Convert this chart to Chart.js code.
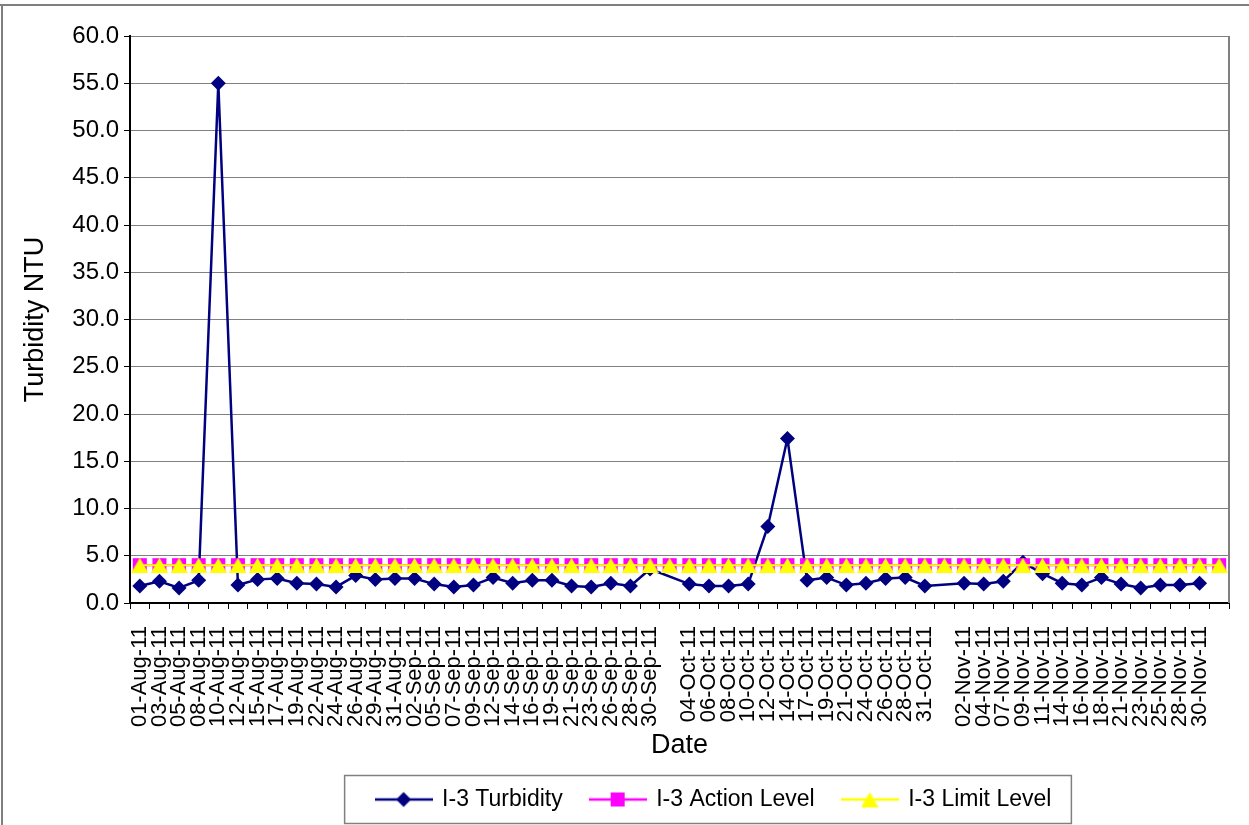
<!DOCTYPE html>
<html>
<head>
<meta charset="utf-8">
<script src="https://cdn.jsdelivr.net/npm/chart.js@4"></script>
<style>
    html, body { margin: 0; padding: 0; background: #fff; }
</style>
</head>
<body>
<canvas id="turbidityChart" width="1249" height="825"></canvas>
<script>
// category labels ('' = empty slot in the sheet)
const dates = [
    '01-Aug-11', '03-Aug-11', '05-Aug-11', '08-Aug-11', '10-Aug-11', '12-Aug-11', '15-Aug-11',
    '17-Aug-11', '19-Aug-11', '22-Aug-11', '24-Aug-11', '26-Aug-11', '29-Aug-11', '31-Aug-11',
    '02-Sep-11', '05-Sep-11', '07-Sep-11', '09-Sep-11', '12-Sep-11', '14-Sep-11', '16-Sep-11',
    '19-Sep-11', '21-Sep-11', '23-Sep-11', '26-Sep-11', '28-Sep-11', '30-Sep-11', '',
    '04-Oct-11', '06-Oct-11', '08-Oct-11', '10-Oct-11', '12-Oct-11', '14-Oct-11', '17-Oct-11',
    '19-Oct-11', '21-Oct-11', '24-Oct-11', '26-Oct-11', '28-Oct-11', '31-Oct-11', '',
    '02-Nov-11', '04-Nov-11', '07-Nov-11', '09-Nov-11', '11-Nov-11', '14-Nov-11', '16-Nov-11',
    '18-Nov-11', '21-Nov-11', '23-Nov-11', '25-Nov-11', '28-Nov-11', '30-Nov-11', ''
];

const turbidity = [
    1.8, 2.3, 1.6, 2.4, 55.0, 1.9, 2.5,
    2.6, 2.1, 2.0, 1.7, 2.9, 2.5, 2.6,
    2.6, 2.0, 1.7, 1.9, 2.7, 2.1, 2.4,
    2.4, 1.8, 1.7, 2.1, 1.8, 3.6, null,
    2.0, 1.8, 1.8, 2.0, 8.1, 17.4, 2.4,
    2.7, 1.9, 2.1, 2.6, 2.7, 1.8, null,
    2.1, 2.0, 2.3, 4.3, 3.1, 2.1, 1.9,
    2.7, 2.0, 1.6, 1.9, 1.9, 2.1, null
];

const actionLevel = [
    4.0, 4.0, 4.0, 4.0, 4.0, 4.0, 4.0, 4.0, 4.0, 4.0, 4.0, 4.0, 4.0, 4.0,
    4.0, 4.0, 4.0, 4.0, 4.0, 4.0, 4.0, 4.0, 4.0, 4.0, 4.0, 4.0, 4.0, 4.0,
    4.0, 4.0, 4.0, 4.0, 4.0, 4.0, 4.0, 4.0, 4.0, 4.0, 4.0, 4.0, 4.0, 4.0,
    4.0, 4.0, 4.0, 4.0, 4.0, 4.0, 4.0, 4.0, 4.0, 4.0, 4.0, 4.0, 4.0, 4.0
];

const limitLevel = [
    4.0, 4.0, 4.0, 4.0, 4.0, 4.0, 4.0, 4.0, 4.0, 4.0, 4.0, 4.0, 4.0, 4.0,
    4.0, 4.0, 4.0, 4.0, 4.0, 4.0, 4.0, 4.0, 4.0, 4.0, 4.0, 4.0, 4.0, 4.0,
    4.0, 4.0, 4.0, 4.0, 4.0, 4.0, 4.0, 4.0, 4.0, 4.0, 4.0, 4.0, 4.0, 4.0,
    4.0, 4.0, 4.0, 4.0, 4.0, 4.0, 4.0, 4.0, 4.0, 4.0, 4.0, 4.0, 4.0, 4.0
];

const seriesNames = ['I-3 Turbidity', 'I-3 Action Level', 'I-3 Limit Level'];
const seriesColors = ['#000080', '#FF00FF', '#FFFF00'];

const FONT = "'Liberation Sans', Arial, sans-serif";

// yellow triangle marker, centred on its bounding box like Excel does
function triangleMarker() {
    const c = document.createElement('canvas');
    c.width = 17; c.height = 15;
    const g = c.getContext('2d');
    g.fillStyle = '#FFFF00';
    g.beginPath();
    g.moveTo(8.5, 0);
    g.lineTo(17, 15);
    g.lineTo(0, 15);
    g.closePath();
    g.fill();
    return c;
}
const triImg = triangleMarker();

// legend sample: line with the marker in the middle
function legendIcon(color, shape) {
    const c = document.createElement('canvas');
    c.width = 58; c.height = 18;
    const g = c.getContext('2d');
    g.strokeStyle = color;
    g.lineWidth = 2.5;
    g.beginPath(); g.moveTo(0, 9); g.lineTo(58, 9); g.stroke();
    g.fillStyle = color;
    g.beginPath();
    if (shape === 'diamond') {
        g.moveTo(29, 1.5); g.lineTo(36.5, 9); g.lineTo(29, 16.5); g.lineTo(21.5, 9);
        g.closePath(); g.fill();
    } else if (shape === 'square') {
        g.fillRect(22, 2, 14, 14);
    } else {
        g.drawImage(triImg, 20.5, 1.5);
    }
    return c;
}
const legendIcons = [
    legendIcon(seriesColors[0], 'diamond'),
    legendIcon(seriesColors[1], 'square'),
    legendIcon(seriesColors[2], 'triangle')
];

const LEGEND_CENTER = 714;

const framePlugin = {
    id: 'frame',
    afterLayout(chart) {
        // the legend sits right of centre in the original
        const lg = chart.legend;
        const shift = LEGEND_CENTER - (lg.left + lg.right) / 2;
        lg.left += shift;
        lg.right += shift;
    },
    beforeDraw(chart) {
        const ctx = chart.ctx;
        ctx.save();
        ctx.strokeStyle = '#7f7f7f';
        ctx.lineWidth = 2;
        ctx.beginPath();
        ctx.moveTo(0, 5); ctx.lineTo(chart.width, 5);
        ctx.moveTo(2, 5); ctx.lineTo(2, chart.height);
        ctx.stroke();
        ctx.restore();
    },
    afterDraw(chart) {
        const ctx = chart.ctx;
        const a = chart.chartArea;
        ctx.save();
        ctx.strokeStyle = '#808080';
        ctx.lineWidth = 2;
        ctx.beginPath();
        ctx.moveTo(a.right, a.top); ctx.lineTo(a.right, a.bottom);
        ctx.stroke();

        // box round the legend
        const boxes = chart.legend.legendHitBoxes;
        if (boxes && boxes.length) {
            const first = boxes[0];
            const last = boxes[boxes.length - 1];
            const cy = first.top + first.height / 2;
            ctx.strokeStyle = '#808080';
            ctx.lineWidth = 1.5;
            ctx.strokeRect(first.left - 32, cy - 24, last.left + last.width - first.left + 52, 48);
        }
        ctx.restore();
    }
};

const ctx = document.getElementById('turbidityChart').getContext('2d');
new Chart(ctx, {
    type: 'line',
    data: {
        labels: dates,
        datasets: [{
            label: seriesNames[0],
            data: turbidity,
            borderColor: seriesColors[0],
            backgroundColor: seriesColors[0],
            borderWidth: 2.5,
            pointStyle: 'rectRot',
            pointRadius: 7.5,
            pointBorderWidth: 0,
            spanGaps: true,
            order: 3
        }, {
            label: seriesNames[1],
            data: actionLevel,
            borderColor: seriesColors[1],
            backgroundColor: seriesColors[1],
            borderWidth: 2,
            pointStyle: 'rect',
            pointRadius: 9.9,
            pointBorderWidth: 0,
            order: 2
        }, {
            label: seriesNames[2],
            data: limitLevel,
            borderColor: seriesColors[2],
            backgroundColor: seriesColors[2],
            borderWidth: 2,
            pointStyle: triImg,
            pointRadius: 8,
            order: 1
        }]
    },
    options: {
        responsive: false,
        animation: false,
        layout: { padding: { top: 36, right: 20, left: 0, bottom: 4 } },
        plugins: {
            tooltip: { enabled: false },
            legend: {
                position: 'bottom',
                labels: {
                    usePointStyle: true,
                    pointStyleWidth: 54,
                    padding: 28,
                    color: '#000',
                    font: { family: FONT, size: 23 },
                    generateLabels: chart => chart.data.datasets.map((ds, i) => ({
                        text: ds.label,
                        pointStyle: legendIcons[i],
                        datasetIndex: i,
                        hidden: false,
                        lineWidth: 0,
                        fillStyle: 'transparent',
                        strokeStyle: 'transparent',
                        fontColor: '#000'
                    }))
                }
            }
        },
        scales: {
            x: {
                offset: true,
                grid: { offset: true, drawOnChartArea: false, drawTicks: true, tickLength: 6, color: '#000' },
                border: { color: '#000', width: 2 },
                ticks: {
                    autoSkip: false,
                    maxRotation: 90,
                    minRotation: 90,
                    padding: 17,
                    color: '#000',
                    font: { family: FONT, size: 22 }
                },
                title: {
                    display: true,
                    text: 'Date',
                    color: '#000',
                    font: { family: FONT, size: 27 },
                    padding: { top: 0, bottom: -2 }
                },
                afterFit: s => {
                    s.height = 157;
                    s.paddingLeft = 0;
                    s.paddingRight = 0;
                }
            },
            y: {
                min: 0,
                max: 60,
                ticks: {
                    stepSize: 5,
                    padding: 5,
                    color: '#000',
                    font: { family: FONT, size: 24 },
                    callback: v => v.toFixed(1)
                },
                grid: { color: '#808080', tickColor: '#000', tickLength: 6, lineWidth: 1 },
                border: { color: '#000', width: 2 },
                title: {
                    display: true,
                    text: 'Turbidity NTU',
                    color: '#000',
                    font: { family: FONT, size: 27 },
                    padding: { top: 19, bottom: 0 }
                },
                afterFit: s => { s.width = 130; }
            }
        }
    },
    plugins: [framePlugin]
});
</script>
</body>
</html>
